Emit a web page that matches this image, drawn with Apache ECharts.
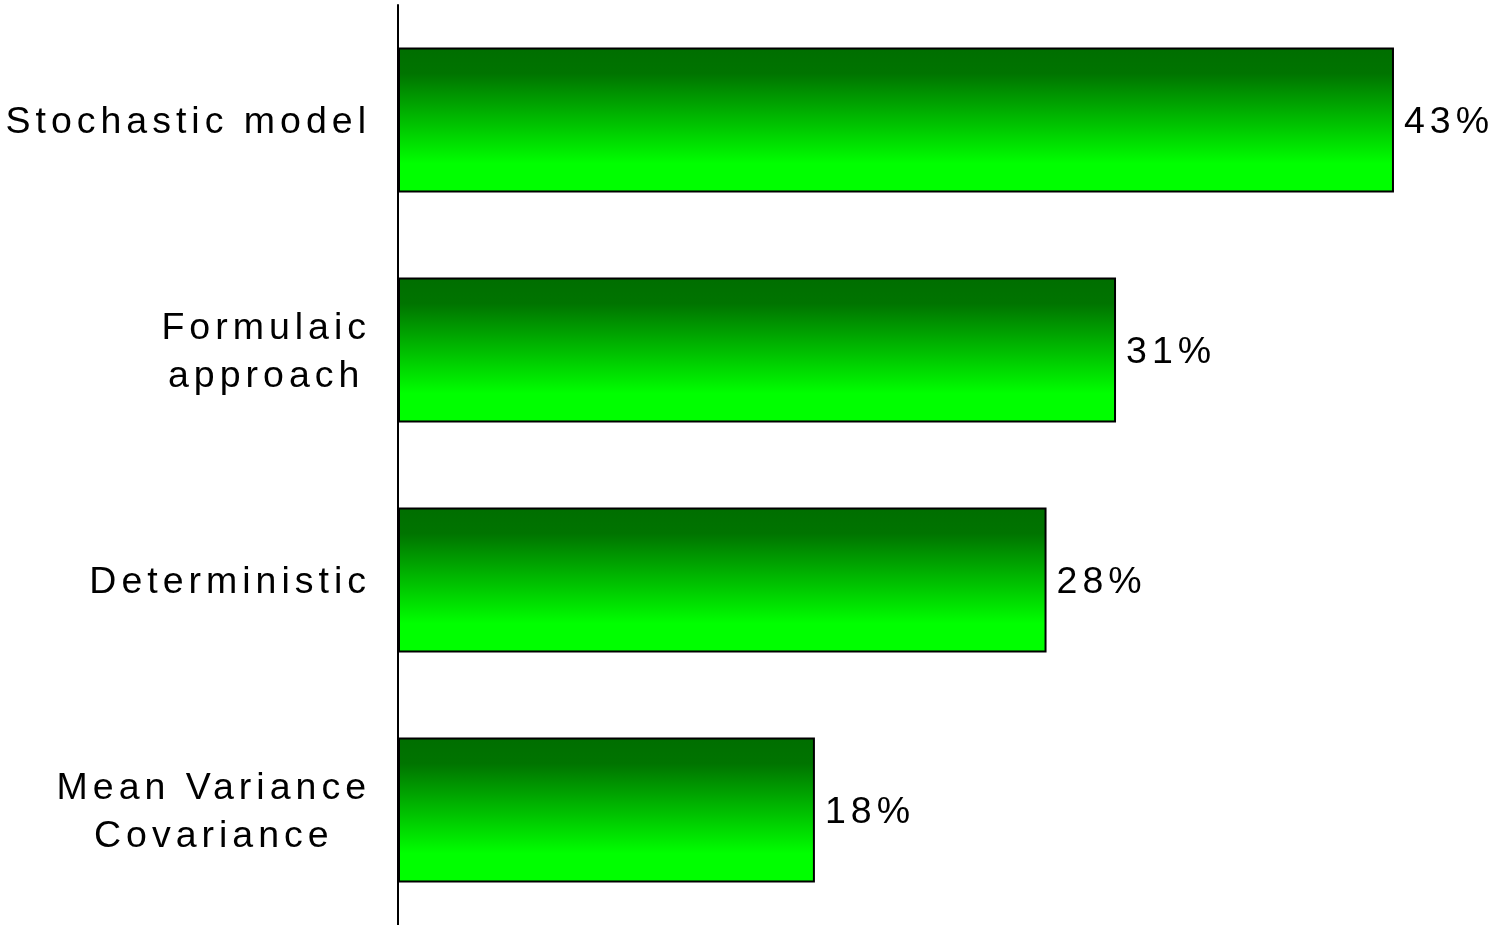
<!DOCTYPE html>
<html>
<head>
<meta charset="utf-8">
<style>
  html, body { margin: 0; padding: 0; background: #ffffff; }
  #chart { width: 1494px; height: 925px; }
</style>
<script src="https://cdn.jsdelivr.net/npm/echarts@6/dist/echarts.min.js"></script>
</head>
<body>
<div id="chart"></div>
<script>
// Survey shares by approach
const categories = ['Stochastic model', 'Formulaic\napproach', 'Deterministic', 'Mean Variance\nCovariance'];
const shares = [43, 31, 28, 18];

// Wide letter tracking on every canvas text call (measure + draw stay consistent)
const TRACKING = '5px';
const proto = CanvasRenderingContext2D.prototype;
['measureText', 'fillText', 'strokeText'].forEach(function (fn) {
  const orig = proto[fn];
  proto[fn] = function () {
    try { this.letterSpacing = TRACKING; } catch (e) {}
    return orig.apply(this, arguments);
  };
});

const FONT = '"Liberation Sans", Arial, sans-serif';
const chart = echarts.init(document.getElementById('chart'), null, { renderer: 'canvas' });

chart.setOption({
  animation: false,
  backgroundColor: '#ffffff',
  grid: { left: 398, top: 5, width: 1042.3, height: 920, containLabel: false },
  xAxis: {
    type: 'value',
    min: 0,
    max: 45,
    show: false
  },
  yAxis: {
    type: 'category',
    data: categories,
    inverse: true,
    axisLine: { show: true, lineStyle: { color: '#000000', width: 2 } },
    axisTick: { show: false },
    splitLine: { show: false },
    axisLabel: {
      margin: 27,
      align: 'right',
      padding: [6, 0, 0, 0],
      formatter: function (v) {
        return v.split('\n').map(function (l) { return '{c|' + l + '}'; }).join('\n');
      },
      rich: {
        c: {
          align: 'center',
          fontSize: 37.5,
          lineHeight: 48,
          fontFamily: FONT,
          color: '#000000'
        }
      }
    }
  },
  series: [{
    type: 'bar',
    data: shares,
    barWidth: 145,
    itemStyle: {
      borderColor: '#000000',
      borderWidth: 2,
      color: new echarts.graphic.LinearGradient(0, 0, 0, 1, [
        { offset: 0, color: '#006e00' },
        { offset: 0.18, color: '#007400' },
        { offset: 0.8, color: '#00ff00' },
        { offset: 1, color: '#00ff00' }
      ])
    },
    label: {
      show: true,
      position: 'right',
      distance: 10,
      offset: [0, 3],
      formatter: '{c}%',
      fontSize: 37.5,
      fontFamily: FONT,
      color: '#000000'
    }
  }]
});
</script>
</body>
</html>
